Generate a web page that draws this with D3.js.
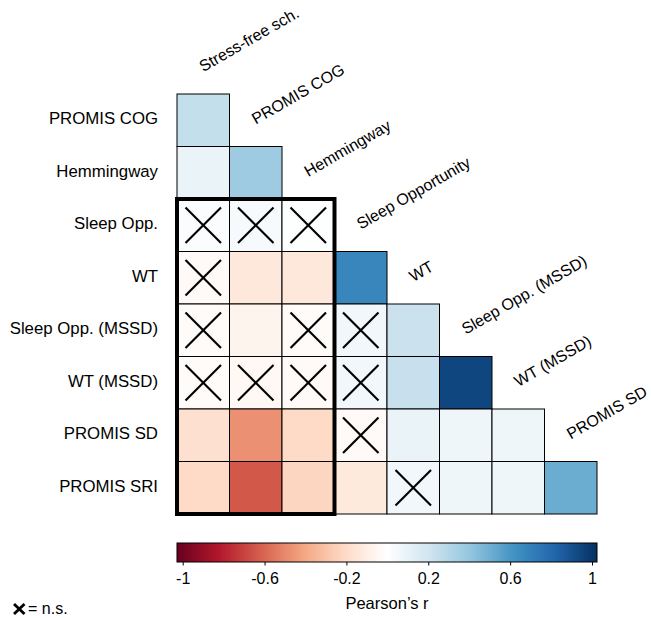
<!DOCTYPE html>
<html>
<head>
<meta charset="utf-8">
<script src="https://cdn.jsdelivr.net/npm/d3@7"></script>
<style>
  body { margin: 0; background: #fff; }
  text { font-family: "Liberation Sans", Arial, Helvetica, sans-serif; }
</style>
</head>
<body>
<svg id="chart" width="651" height="618"></svg>
<script>
// row variables (y) and column variables (x)
const rowLabels = ["PROMIS COG", "Hemmingway", "Sleep Opp.", "WT", "Sleep Opp. (MSSD)",
  "WT (MSSD)", "PROMIS SD", "PROMIS SRI"];
const colLabels = ["Stress-free sch.", "PROMIS COG", "Hemmingway", "Sleep Opportunity", "WT",
  "Sleep Opp. (MSSD)", "WT (MSSD)", "PROMIS SD"];

// lower triangle of Pearson's r, one array per row
const rValues = [
  [0.24],
  [0.09, 0.36],
  [0.02, 0.04, 0.01],
  [-0.03, -0.13, -0.13, 0.66],
  [-0.02, -0.06, -0.02, 0.06, 0.22],
  [-0.02, -0.04, -0.03, 0.06, 0.23, 0.92],
  [-0.17, -0.46, -0.2, -0.03, 0.09, 0.07, 0.07],
  [-0.2, -0.62, -0.22, -0.12, 0.06, 0.07, 0.07, 0.5]
];
// 1 = not significant (crossed out)
const nsFlags = [
  [0],
  [0, 0],
  [1, 1, 1],
  [1, 0, 0, 0],
  [1, 0, 1, 1, 0],
  [1, 1, 1, 1, 0, 0],
  [0, 0, 0, 1, 0, 0, 0],
  [0, 0, 0, 0, 1, 0, 0, 0]
];
const legendTicks = [-1, -0.6, -0.2, 0.2, 0.6, 1];
const paletteColors = ["#67001F", "#B2182B", "#D6604D", "#F4A582", "#FDDBC7", "#FFFFFF",
  "#D1E5F0", "#92C5DE", "#4393C3", "#2166AC", "#053061"];

const svg = d3.select("#chart");

const x = d3.scaleBand().domain(d3.range(8)).range([177, 597]).padding(0);
const y = d3.scaleBand().domain(d3.range(8)).range([94, 514]).padding(0);
const color = d3.scaleLinear()
  .domain(d3.range(paletteColors.length).map(i => -1 + 2 * i / (paletteColors.length - 1)))
  .range(paletteColors)
  .interpolate(d3.interpolateRgb);

const cells = [];
rValues.forEach((row, i) => row.forEach((r, j) => cells.push({ i, j, r, ns: nsFlags[i][j] })));

const g = svg.append("g");
g.selectAll("rect")
  .data(cells)
  .enter()
  .append("rect")
  .attr("x", d => x(d.j))
  .attr("y", d => y(d.i))
  .attr("width", x.bandwidth())
  .attr("height", y.bandwidth())
  .attr("fill", d => color(d.r))
  .attr("stroke", "#000")
  .attr("stroke-width", 1);

// crosses for n.s.
const pad = 8.5;
const crosses = g.selectAll("g.cross")
  .data(cells.filter(d => d.ns))
  .enter()
  .append("g")
  .attr("class", "cross");
crosses.append("line")
  .attr("x1", d => x(d.j) + pad).attr("y1", d => y(d.i) + pad)
  .attr("x2", d => x(d.j) + x.bandwidth() - pad).attr("y2", d => y(d.i) + y.bandwidth() - pad);
crosses.append("line")
  .attr("x1", d => x(d.j) + x.bandwidth() - pad).attr("y1", d => y(d.i) + pad)
  .attr("x2", d => x(d.j) + pad).attr("y2", d => y(d.i) + y.bandwidth() - pad);
crosses.selectAll("line").attr("stroke", "#000").attr("stroke-width", 2.2);

// highlight box around rows 2-7, cols 0-2
g.append("rect")
  .attr("x", x(0))
  .attr("y", y(2))
  .attr("width", x(2) + x.bandwidth() - x(0))
  .attr("height", y(7) + y.bandwidth() - y(2))
  .attr("fill", "none")
  .attr("stroke", "#000")
  .attr("stroke-width", 4);

// row labels
svg.append("g")
  .selectAll("text")
  .data(rowLabels)
  .enter()
  .append("text")
  .attr("x", 158)
  .attr("y", (d, i) => y(i) + y.bandwidth() / 2 + 4)
  .attr("text-anchor", "end")
  .attr("font-size", 16.8)
  .text(d => d);

// column labels, diagonal
svg.append("g")
  .selectAll("text")
  .data(colLabels)
  .enter()
  .append("text")
  .attr("transform", (d, j) => {
    const cx = x(0) + x.bandwidth() * (j + 0.5);
    const cy = y(0) + y.bandwidth() * (j - 0.5) + 4.5;
    return `translate(${cx},${cy}) rotate(-30)`;
  })
  .attr("font-size", 16)
  .text(d => d);

// color bar
const barX0 = 177, barX1 = 597, barY = 543, barH = 19;
const defs = svg.append("defs");
const grad = defs.append("linearGradient").attr("id", "rdbu");
d3.range(0, 1.0001, 0.025).forEach(t => {
  grad.append("stop").attr("offset", `${t * 100}%`).attr("stop-color", color(-1 + 2 * t));
});
svg.append("rect")
  .attr("x", barX0).attr("y", barY)
  .attr("width", barX1 - barX0).attr("height", barH)
  .attr("fill", "url(#rdbu)")
  .attr("stroke", "#000").attr("stroke-width", 1);

const legendScale = d3.scaleLinear().domain([-1, 1]).range([182.7, 592]);
const axis = d3.axisBottom(legendScale)
  .tickValues(legendTicks)
  .tickFormat(d => String(d))
  .tickSize(3.5)
  .tickPadding(7);
const axisG = svg.append("g")
  .attr("transform", `translate(0,${barY + barH})`)
  .call(axis);
axisG.select(".domain").remove();
axisG.selectAll("text")
  .attr("font-size", 16)
  .attr("fill", "#000")
  .style("font-family", "'Liberation Sans', Arial, sans-serif");
axisG.selectAll("line").attr("stroke", "#000");

svg.append("text")
  .attr("x", 387)
  .attr("y", 609)
  .attr("text-anchor", "middle")
  .attr("font-size", 16.5)
  .text("Pearson\u2019s r");

// n.s. legend
const lg = svg.append("g").attr("transform", "translate(14,604)");
lg.append("line").attr("x1", 0).attr("y1", 0).attr("x2", 10.5).attr("y2", 10);
lg.append("line").attr("x1", 10.5).attr("y1", 0).attr("x2", 0).attr("y2", 10);
lg.selectAll("line").attr("stroke", "#000").attr("stroke-width", 2.8);
lg.append("text")
  .attr("x", 14)
  .attr("y", 10)
  .attr("font-size", 16)
  .text("= n.s.");
</script>
</body>
</html>
